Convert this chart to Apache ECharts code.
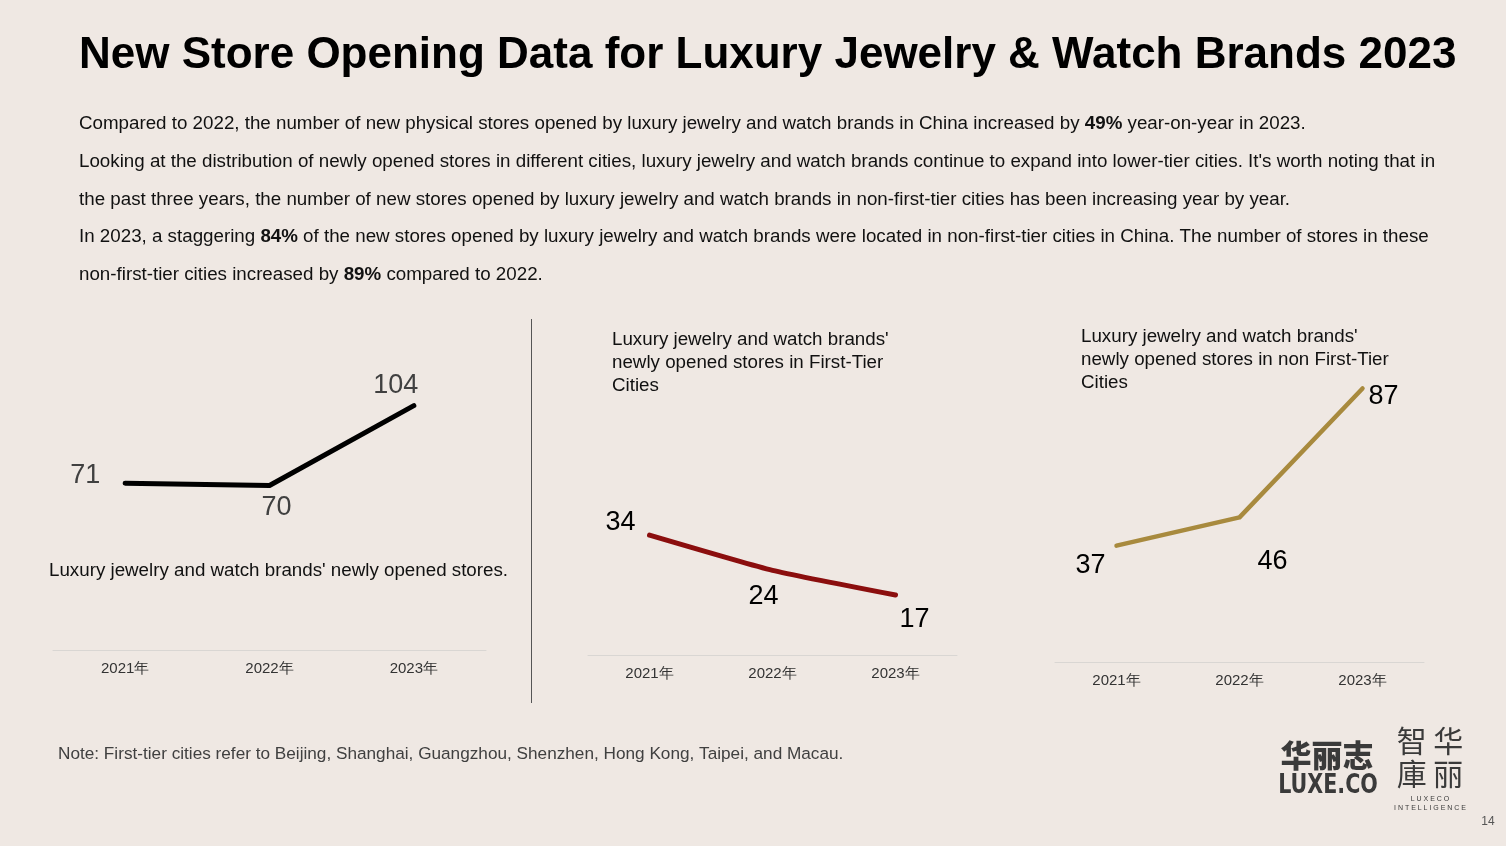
<!DOCTYPE html>
<html><head><meta charset="utf-8">
<script src="https://cdn.jsdelivr.net/npm/echarts@6/dist/echarts.min.js"></script>
<style>html,body{margin:0;padding:0;background:#EFE8E3;}#c{width:1506px;height:846px;}</style>
</head><body><div id="c"></div>
<script>
const years = ['2021年', '2022年', '2023年'];
const totalStores = [71, 70, 104];
const firstTierStores = [34, 24, 17];
const nonFirstTierStores = [37, 46, 87];

const FONT = '"Liberation Sans", Arial, sans-serif';
const chart = echarts.init(document.getElementById('c'));

function mk(values, offsets) {
  return values.map((v, i) => ({
    value: v,
    label: { offset: offsets[i] }
  }));
}

function lineSeries(idx, values, offsets, color, width, labelColor, smooth) {
  return {
    type: 'line', xAxisIndex: idx, yAxisIndex: idx,
    data: mk(values, offsets),
    smooth: smooth,
    symbol: 'circle', symbolSize: 1,
    itemStyle: { color: color },
    lineStyle: { color: color, width: width, cap: 'round', join: 'round' },
    label: { show: true, position: 'inside', color: labelColor, fontSize: 27, fontFamily: FONT },
    silent: true, animation: false
  };
}

const grids = [
  { left: 53, width: 433, top: 368, height: 282 },
  { left: 588, width: 369, top: 373, height: 282 },
  { left: 1055, width: 369, top: 379, height: 283 }
];
const yMax = [120, 80, 90];

const xAxes = grids.map((g, i) => ({
  type: 'category', gridIndex: i, data: years, boundaryGap: true,
  axisLine: { show: true, lineStyle: { color: '#D9D6D3', width: 1 } },
  axisTick: { show: false },
  axisLabel: { color: '#333', fontSize: 15, fontFamily: FONT, margin: 11 }
}));
const yAxes = grids.map((g, i) => ({
  type: 'value', gridIndex: i, min: 0, max: yMax[i], show: false, splitLine: { show: false }
}));

const PS = 18.75;
const paraStyle = { fontSize: PS, fontFamily: FONT, fill: '#111' };
const rich = { b: { fontWeight: 'bold', fontSize: PS, fontFamily: FONT, fill: '#111', color: '#111' } };
const paraLines = [
  'Compared to 2022, the number of new physical stores opened by luxury jewelry and watch brands in China increased by {b|49%} year-on-year in 2023.',
  'Looking at the distribution of newly opened stores in different cities, luxury jewelry and watch brands continue to expand into lower-tier cities. It\'s worth noting that in',
  'the past three years, the number of new stores opened by luxury jewelry and watch brands in non-first-tier cities has been increasing year by year.',
  'In 2023, a staggering {b|84%} of the new stores opened by luxury jewelry and watch brands were located in non-first-tier cities in China. The number of stores in these',
  'non-first-tier cities increased by {b|89%} compared to 2022.'
];
const paraY = [124, 162, 200, 237, 275];

const graphics = [
  { type: 'text', left: 79, top: 34, style: { text: 'New Store Opening Data for Luxury Jewelry & Watch Brands 2023', fontSize: 44, fontWeight: 'bold', fontFamily: FONT, fill: '#000' } }
];
paraLines.forEach((t, i) => {
  graphics.push({ type: 'text', x: 79, y: paraY[i], style: Object.assign({ text: t, rich: rich, verticalAlign: 'middle' }, paraStyle) });
});
graphics.push(
  { type: 'text', x: 49, y: 571, style: Object.assign({ text: "Luxury jewelry and watch brands' newly opened stores.", verticalAlign: 'middle' }, paraStyle) },
  { type: 'text', x: 612, y: 328, style: Object.assign({ text: "Luxury jewelry and watch brands'\nnewly opened stores in First-Tier\nCities", lineHeight: 23 }, paraStyle) },
  { type: 'text', x: 1081, y: 325, style: Object.assign({ text: "Luxury jewelry and watch brands'\nnewly opened stores in non First-Tier\nCities", lineHeight: 23 }, paraStyle) },
  { type: 'line', shape: { x1: 531.5, y1: 319, x2: 531.5, y2: 703 }, style: { stroke: '#555', lineWidth: 1 } },
  { type: 'text', x: 58, y: 754, style: { text: 'Note: First-tier cities refer to Beijing, Shanghai, Guangzhou, Shenzhen, Hong Kong, Taipei, and Macau.', fontSize: 17.2, fontFamily: FONT, fill: '#404040', verticalAlign: 'middle' } },
  { type: 'text', x: 1327, y: 755, style: { text: '华丽志', fontSize: 31, fontWeight: 900, fontFamily: '"Noto Sans CJK SC"', fill: '#3a3a3a', align: 'center', verticalAlign: 'middle' } },
  { type: 'text', x: 1328, y: 786, scaleX: 0.85, style: { text: 'LUXE.CO', fontSize: 27, fontWeight: 'bold', fontFamily: '"Liberation Sans Narrow", "DejaVu Sans Condensed", sans-serif', fill: '#3a3a3a', align: 'center', verticalAlign: 'middle' } },
  { type: 'text', x: 1430, y: 741, style: { text: '智 华', fontSize: 30, fontFamily: '"Noto Sans CJK TC"', fill: '#3a3a3a', align: 'center', verticalAlign: 'middle' } },
  { type: 'text', x: 1430, y: 774, style: { text: '庫 丽', fontSize: 30, fontFamily: '"Noto Sans CJK TC"', fill: '#3a3a3a', align: 'center', verticalAlign: 'middle' } },
  { type: 'text', x: 1430, y: 799, style: { text: 'L U X E C O', fontSize: 7, fontFamily: FONT, fill: '#3a3a3a', align: 'center', verticalAlign: 'middle' } },
  { type: 'text', x: 1430, y: 808, style: { text: 'I N T E L L I G E N C E', fontSize: 7, fontFamily: FONT, fill: '#3a3a3a', align: 'center', verticalAlign: 'middle' } },
  { type: 'text', x: 1488, y: 822, style: { text: '14', fontSize: 12, fontFamily: FONT, fill: '#555', align: 'center', verticalAlign: 'middle' } }
);

chart.setOption({
  backgroundColor: '#EFE8E3',
  animation: false,
  grid: grids,
  xAxis: xAxes,
  yAxis: yAxes,
  series: [
    lineSeries(0, totalStores, [[-40, -8], [7, 22], [-18, -20]], '#000', 5, '#404040', false),
    lineSeries(1, firstTierStores, [[-29, -13], [-9, 26], [19, 24]], '#8B0E0E', 5, '#000', 0.15),
    lineSeries(2, nonFirstTierStores, [[-26, 20], [33, 44], [21, 8]], '#A88A3E', 4.5, '#000', false)
  ],
  graphic: graphics
});
</script></body></html>
